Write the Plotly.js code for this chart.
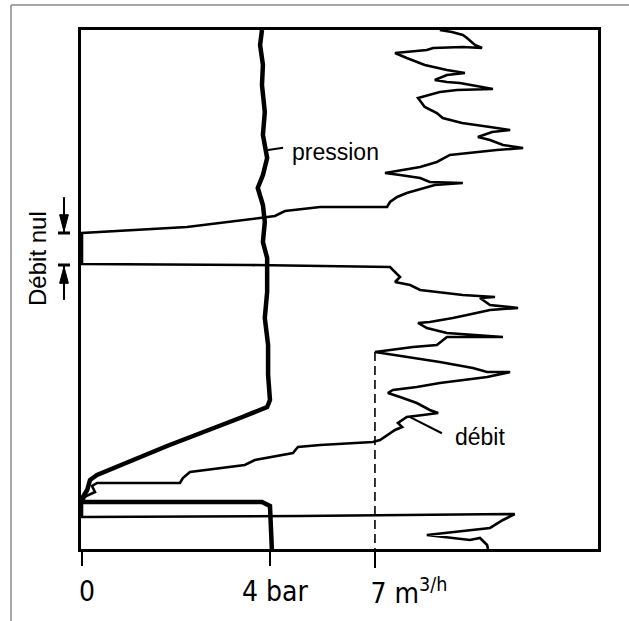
<!DOCTYPE html>
<html>
<head>
<meta charset="utf-8">
<script src="https://cdn.plot.ly/plotly-3.0.1.min.js"></script>
<style>html,body{margin:0;padding:0;background:#fff;}#chart{width:629px;height:621px;}</style>
</head>
<body>
<div id="chart"></div>
<script>
// ---- data (time in arbitrary units, 0 = top of record, 100 = bottom) ----
const flowTime = [0,0.39,0.96,1.54,2.89,3.47,3.28,3.47,3.85,4.43,5.39,6.74,7.71,8.29,8.67,9.63,10.02,10.21,11.37,11.56,11.95,13.10,14.84,15.99,16.96,17.92,18.69,19.27,19.65,20.62,21.19,22.16,22.74,23.12,24.08,25.43,26.40,26.97,27.55,27.94,28.52,29.29,29.48,29.87,30.83,31.41,32.18,33.14,34.10,34.10,34.87,35.84,36.22,37.96,39.11,45.09,45.28,45.66,47.59,48.55,49.13,50.10,51.06,51.45,51.64,52.99,53.56,53.95,54.91,55.49,56.26,56.45,57.42,58.38,59.15,59.15,60.69,61.08,62.04,63.01,63.97,65.13,65.90,65.90,66.86,68.02,68.79,69.36,69.94,70.71,71.87,73.22,73.80,74.18,74.57,75.72,76.49,77.07,78.03,79.00,79.38,79.96,80.35,81.50,82.85,83.82,85.16,86.32,87.28,87.28,87.86,89.02,89.79,90.56,93.83,93.64,93.26,94.41,95.95,96.72,97.30,97.88,98.27,97.88,99.23,100];
const flowRate = [8.55,8.84,9.10,9.20,9.39,9.56,9.10,8.39,8.24,7.48,7.76,8.19,8.72,9.15,8.72,8.43,8.72,9.03,9.82,8.96,8.55,8.03,8.19,8.48,8.62,9.08,9.75,10.23,9.80,9.46,9.75,10.06,10.54,9.91,8.79,8.48,8.08,7.65,7.24,7.60,8.08,8.31,9.10,8.43,8.00,7.76,7.53,7.36,7.29,5.69,4.85,4.61,4.25,2.51,0,0,4.01,7.36,7.60,7.48,7.84,8.08,9.10,9.87,9.51,9.75,10.42,9.75,9.20,8.86,8.31,8.03,8.24,8.72,10.06,8.72,8.48,7.91,7.00,7.76,8.55,9.34,9.68,10.23,9.68,8.55,8.00,7.43,7.31,7.60,8.00,8.31,8.51,8.15,7.76,7.55,7.65,7.48,7.29,7.12,6.95,5.69,5.16,5.04,4.13,3.89,2.58,2.41,2.34,0.36,0.24,0.31,0.10,0,0,5.21,10.34,10.06,9.75,8.86,8.24,8.86,9.27,9.51,9.68,9.70];
const pressureTime = [0,2.89,6.74,10.60,15.80,20.23,24.66,27.94,30.44,33.72,36.99,40.85,43.93,50.48,55.49,60.69,66.47,71.29,72.64,73.22,74.76,80.15,85.74,86.71,88.63,89.98,90.94,90.94,91.71,100];
const pressureBar  = [3.83,3.79,3.85,3.83,3.89,3.85,3.94,3.85,3.74,3.85,3.89,3.85,3.94,3.94,3.89,3.96,3.96,4.00,3.94,3.79,3.36,1.81,0.32,0.17,0.11,0.02,0.02,3.83,4.00,4.04];
const refFlow = 7;            // dashed reference level, m3/h
const refTime = [62.04, 100];
const flowTicks = [7];
const flowTickText = ['7 m<sup>3/h</sup>'];
const pressureTicks = [0, 4];
const pressureTickText = ['0', '4 bar'];
const nulStart = 39.11, nulEnd = 45.28;   // "Débit nul" interval

const black = '#000';
const traces = [
  {x: flowRate, y: flowTime, xaxis: 'x', yaxis: 'y', mode: 'lines',
   line: {color: black, width: 2.6, shape: 'linear'}, hoverinfo: 'skip'},
  {x: pressureBar, y: pressureTime, xaxis: 'x2', yaxis: 'y', mode: 'lines',
   line: {color: black, width: 4.5}, hoverinfo: 'skip'},
  {x: [refFlow, refFlow], y: refTime, xaxis: 'x', yaxis: 'y', mode: 'lines',
   line: {color: black, width: 1.6, dash: '9px,5px'}, hoverinfo: 'skip'}
];

const tickFont = {family: 'DejaVu Sans Condensed', size: 28, color: black};
const textFont = {family: 'Liberation Sans, Arial', size: 23, color: black};

// dimension arrows for "Débit nul" (paper x, time y)
const ax = -0.0329, hw = 0.0085;
const arrowShapes = [
  {type: 'line', xref: 'paper', yref: 'y', x0: ax, x1: ax, y0: 32.2, y1: nulStart, line: {color: black, width: 2}},
  {type: 'path', xref: 'paper', yref: 'y', path: `M ${ax-hw} 35.6 L ${ax+hw} 35.6 L ${ax} ${nulStart-0.3} Z`,
   fillcolor: black, line: {color: black, width: 1}},
  {type: 'line', xref: 'paper', yref: 'y', x0: ax, x1: ax, y0: nulEnd, y1: 52.0, line: {color: black, width: 2}},
  {type: 'path', xref: 'paper', yref: 'y', path: `M ${ax-hw} 48.8 L ${ax+hw} 48.8 L ${ax} ${nulEnd+0.3} Z`,
   fillcolor: black, line: {color: black, width: 1}}
];

const layout = {
  width: 629, height: 621,
  margin: {l: 81, r: 31, t: 30, b: 72},
  paper_bgcolor: '#fff', plot_bgcolor: '#fff',
  showlegend: false,
  xaxis: {range: [-0.024, 12.33], showgrid: false, zeroline: false,
          showline: true, linewidth: 3, linecolor: black, mirror: true,
          tickmode: 'array', tickvals: flowTicks, ticktext: flowTickText, tickfont: tickFont,
          ticklabelshift: 34, ticklabelstandoff: 1,
          ticks: 'outside', ticklen: 16, tickwidth: 2, tickcolor: black},
  xaxis2: {overlaying: 'x', side: 'bottom', range: [-0.021, 10.98], showgrid: false, zeroline: false,
           showline: false, tickmode: 'array', tickvals: pressureTicks, ticktext: pressureTickText, tickfont: tickFont,
           ticklabelshift: 5, ticklabelstandoff: 1,
           ticks: 'outside', ticklen: 16, tickwidth: 2, tickcolor: black},
  yaxis: {range: [100, 0], showgrid: false, zeroline: false, showticklabels: false, ticks: '',
          showline: true, linewidth: 3, linecolor: black, mirror: true},
  shapes: [
    // outer scan frame
    {type: 'line', xref: 'paper', yref: 'paper', x0: -0.1354, x1: 1.07, y0: 1.0482, y1: 1.0482,
     line: {color: '#8a8a8a', width: 1.5}},
    {type: 'line', xref: 'paper', yref: 'paper', x0: -0.1354, x1: -0.1354, y0: 1.0482, y1: -0.15,
     line: {color: '#8a8a8a', width: 1.5}},
    // pointer for "pression"
    {type: 'line', xref: 'x2', yref: 'y', x0: 3.96, x1: 4.28, y0: 23.1, y1: 22.7,
     line: {color: black, width: 2}},
    // pointer for "débit"
    {type: 'line', xref: 'x', yref: 'y', x0: 7.84, x1: 8.60, y0: 74.6, y1: 77.7,
     line: {color: black, width: 2}},
    // bars of the "Débit nul" dimension
    {type: 'line', xref: 'paper', yref: 'y', x0: -0.0445, x1: -0.0213, y0: nulStart, y1: nulStart,
     line: {color: black, width: 3}},
    {type: 'line', xref: 'paper', yref: 'y', x0: -0.0445, x1: -0.0213, y0: nulEnd, y1: nulEnd,
     line: {color: black, width: 3}}
  ].concat(arrowShapes),
  annotations: [
    {xref: 'x2', yref: 'y', x: 4.43, y: 23.5, text: 'pression', showarrow: false,
     xanchor: 'left', yanchor: 'middle', font: textFont},
    {xref: 'x', yref: 'y', x: 8.86, y: 78.4, text: 'débit', showarrow: false,
     xanchor: 'left', yanchor: 'middle', font: textFont},
    {xref: 'paper', yref: 'paper', x: -0.0832, y: 0.5607, text: 'Débit nul', showarrow: false,
     textangle: -90, xanchor: 'center', yanchor: 'middle', font: {family: 'Liberation Sans, Arial', size: 24, color: black}}
  ]
};

Plotly.newPlot('chart', traces, layout, {staticPlot: true, displayModeBar: false});
</script>
</body>
</html>
